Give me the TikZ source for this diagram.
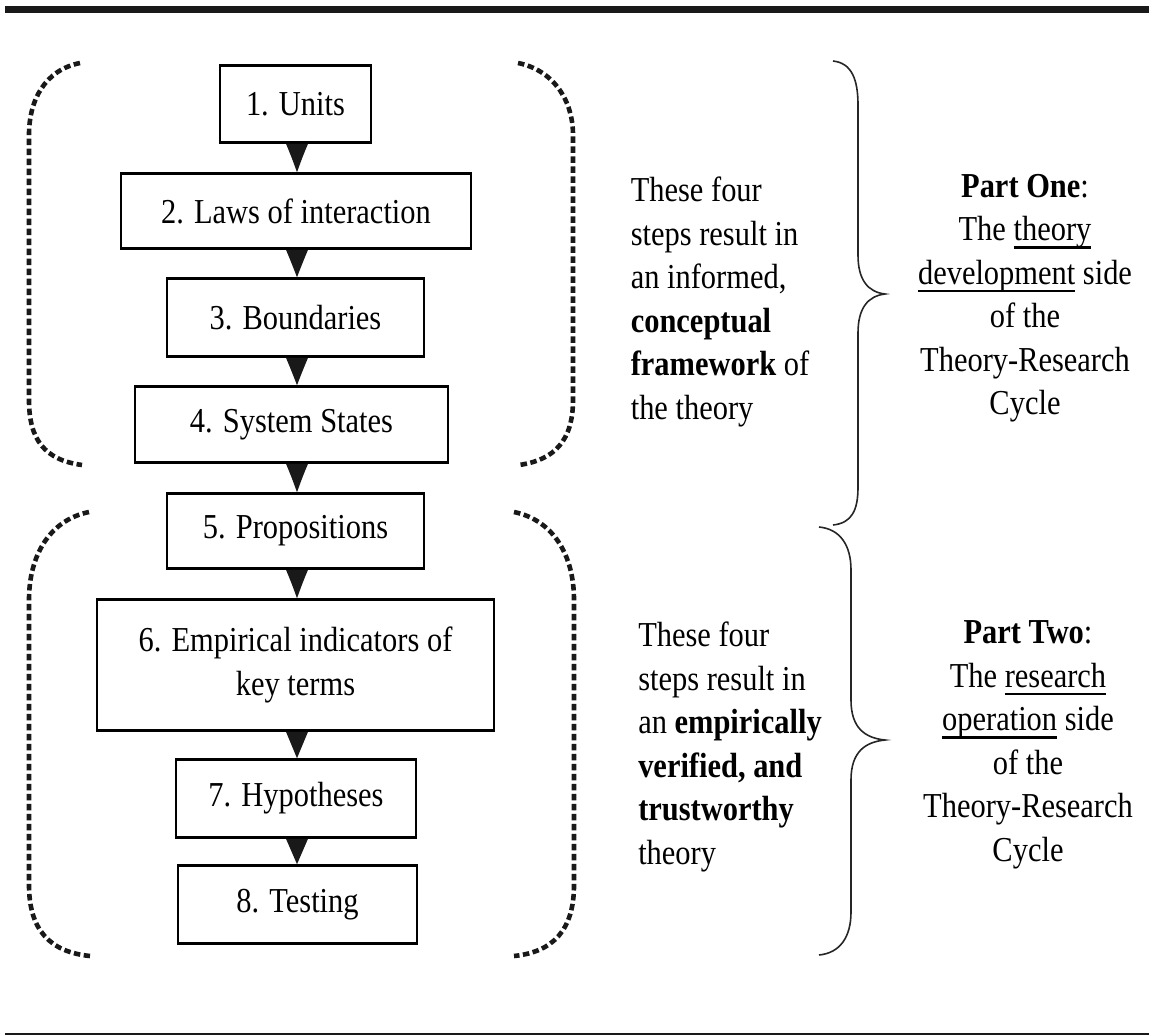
\documentclass[tikz,border=0pt]{standalone}
\usepackage{fontspec}
\setmainfont[FakeStretch=0.87]{Liberation Serif}
\usetikzlibrary{calc}
\newcommand\bigtext{\fontsize{35}{43.5}\selectfont}
\newcommand\undl[1]{\leavevmode\setbox0\hbox{#1}\rlap{\rule[-8pt]{\wd0}{2.5pt}}\box0\relax}

\begin{document}
\begin{tikzpicture}[x=1pt,y=-1pt,
  stepbox/.style={draw=black, line width=2.6pt, inner sep=0pt, align=center, font=\bigtext},
  flowtip/.style={fill=black!90},
  groupmark/.style={line width=4.6pt, dash pattern=on 6.5pt off 3.5pt, black!90},
  bracemark/.style={line width=1.6pt, black!85},
  note/.style={inner sep=0pt, font=\bigtext},
  rulemark/.style={black!90}]
\useasboundingbox (0,0) rectangle (1149,1036);

% page rules
\draw[rulemark, line width=7pt] (5,9) -- (1149,9);
\draw[rulemark, line width=2.5pt] (5,1034) -- (1149,1034);

% the eight steps
\node[stepbox, minimum width=151pt, minimum height=77pt] (s1) at (295.5,104) {1. Units};
\node[stepbox, minimum width=350pt, minimum height=75pt] (s2) at (296,211) {2. Laws of interaction};
\node[stepbox, minimum width=257pt, minimum height=78pt] (s3) at (295.5,317.5) {3. Boundaries};
\node[stepbox, minimum width=313pt, minimum height=76pt] (s4) at (291.5,424.5) {4. System States};
\node[stepbox, minimum width=257pt, minimum height=75pt] (s5) at (295.5,531) {5. Propositions};
\node[stepbox, minimum width=397pt, minimum height=131pt] (s6) at (295.5,665) {6. Empirical indicators of\\key terms};
\node[stepbox, minimum width=240pt, minimum height=78pt] (s7) at (296,798.5) {7. Hypotheses};
\node[stepbox, minimum width=239pt, minimum height=78pt] (s8) at (297.5,904.5) {8. Testing};

% arrowheads between consecutive steps, sides slightly hollow
\coordinate (col) at (297,0);
\foreach \a/\b in {s1/s2,s2/s3,s3/s4,s4/s5,s5/s6,s6/s7,s7/s8}
  \fill[flowtip] ($(\a.south -| col)+(-11,0)$) -- ($(\a.south -| col)+(11,0)$)
    .. controls ($(\a.south -| col)+(6,12)$) .. (\b.north -| col)
    .. controls ($(\a.south -| col)+(-6,12)$) .. cycle;

% dotted brackets around steps 1-4
\draw[groupmark] (80,63) .. controls (45,70) and (29,100) .. (29,135) -- (29,400) .. controls (29,440) and (45,460) .. (82,465);
\draw[groupmark] (518,63) .. controls (553,70) and (573,100) .. (573,135) -- (573,400) .. controls (573,440) and (555,460) .. (519,465);
% dotted brackets around steps 5-8
\draw[groupmark] (89,512) .. controls (50,520) and (29,555) .. (29,600) -- (29,885) .. controls (29,930) and (50,952) .. (90,956);
\draw[groupmark] (514,512) .. controls (553,520) and (574,555) .. (574,600) -- (574,885) .. controls (574,930) and (553,952) .. (514,956);

% descriptions of the two groups
\node[note, align=left] (d1) at (720,302) {These four\\steps result in\\an informed,\\\textbf{conceptual}\\\textbf{framework} of\\the theory};
\node[note, align=left] (d2) at (730,747) {These four\\steps result in\\an \textbf{empirically}\\\textbf{verified, and}\\\textbf{trustworthy}\\theory};

% curly braces
\draw[bracemark] (833,61) .. controls (852,63) and (858,80) .. (858,105) -- (858,255)
  .. controls (858,280) and (868,292) .. (885,294)
  .. controls (868,296) and (858,308) .. (858,333) -- (858,487)
  .. controls (858,510) and (852,523) .. (833,525);
\draw[bracemark] (819,527) .. controls (840,529) and (851,545) .. (851,570) -- (851,700)
  .. controls (851,728) and (865,738) .. (885,740)
  .. controls (865,742) and (851,752) .. (851,780) -- (851,912)
  .. controls (851,937) and (840,953) .. (819,955);

% the two parts
\node[note, align=center] (p1) at (1025,298) {\textbf{Part One}:\\The \undl{theory}\\\undl{development} side\\of the\\Theory-Research\\Cycle};
\node[note, align=center] (p2) at (1028,745) {\textbf{Part Two}:\\The \undl{research}\\\undl{operation} side\\of the\\Theory-Research\\Cycle};
\end{tikzpicture}
\end{document}
